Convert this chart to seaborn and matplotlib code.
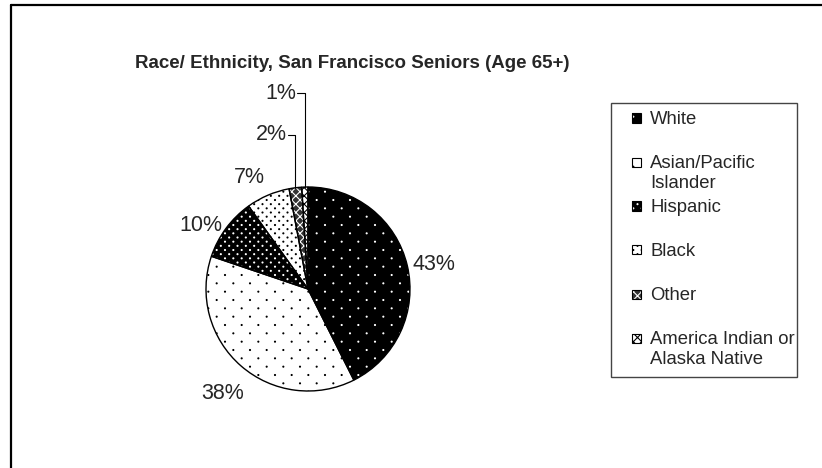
import numpy as np
import matplotlib
matplotlib.use("Agg")
import matplotlib.pyplot as plt
import seaborn as sns
from matplotlib.lines import Line2D
from matplotlib.patches import Rectangle
from matplotlib.path import Path
from matplotlib import hatch as mhatch

sns.set_style("white")
plt.rcParams['font.family'] = ['Liberation Sans', 'DejaVu Sans']
plt.rcParams['hatch.linewidth'] = 0.8

# data
groups = ['White', 'Asian/Pacific\nIslander', 'Hispanic', 'Black', 'Other',
          'America Indian or\nAlaska Native']
shares = [43, 38, 10, 7, 2, 1]

# fill / hatch styling per slice
faces = ['black', 'white', 'black', 'white', '#333333', 'white']
hatch_cols = ['white', 'black', 'white', 'black', 'white', 'black']
hatches = ['..', '..', '....', '....', 'xxxx', 'xxxx']


# staggered dot grid like the excel pattern fills ('..' sparse, '....' dense)
class DotLattice(mhatch.HatchPatternBase):
    def __init__(self, hatch, density):
        n = hatch.count('.') // 2
        self.cols = n * density
        self.rows = 2 * self.cols
        circ = Path.unit_circle()
        self.sv = circ.vertices
        self.sc = circ.codes
        self.num_shapes = (self.rows + 1) * (self.cols + 1) if self.cols else 0
        self.num_vertices = self.num_shapes * len(self.sv)

    def set_vertices_and_codes(self, vertices, codes):
        sv = self.sv * 0.005
        vs, cs = [], []
        for row in range(self.rows + 1):
            shift = 0.5 / self.cols if row % 2 else 0.0
            for c in range(self.cols + 1):
                vs.append(sv + [c / self.cols + shift, row / self.rows])
                cs.append(self.sc)
        np.concatenate(vs, out=vertices)
        np.concatenate(cs, out=codes)


mhatch._hatch_types = [t for t in mhatch._hatch_types
                       if t is not mhatch.SmallFilledCircles] + [DotLattice]

W, H = 822, 468
fig = plt.figure(figsize=(W / 100, H / 100), dpi=100)

# outer frame (only top and left show in the crop)
fig.add_artist(Line2D([10.5 / W, 1], [1 - 4.5 / H, 1 - 4.5 / H], color='black', lw=1.6))
fig.add_artist(Line2D([10.5 / W, 10.5 / W], [0, 1 - 4.5 / H], color='black', lw=1.6))

fig.text(352 / W, 1 - 63 / H, 'Race/ Ethnicity, San Francisco Seniors (Age 65+)',
         ha='center', va='center', fontsize=13.5, fontweight='bold')

cx, cy, r = 308, 289, 102
ax = fig.add_axes([(cx - r) / W, (H - cy - r) / H, 2 * r / W, 2 * r / H])

wedges, _ = ax.pie(shares, startangle=90, counterclock=False,
                   colors=faces, wedgeprops=dict(linewidth=0))
for w, hc, ht in zip(wedges, hatch_cols, hatches):
    w.set_edgecolor(hc)
    w.set_hatch(ht)
# outlines on top
ax.pie(shares, startangle=90, counterclock=False,
       wedgeprops=dict(fill=False, edgecolor='black', linewidth=1.0))

ax.set_xlim(-1, 1)
ax.set_ylim(-1, 1)
ax.axis('off')

# percentage labels
align = [('left', 'center', 1.05), ('center', 'top', 1.22), ('right', 'center', 1.05),
         ('right', 'bottom', 1.08)]
for i, w in enumerate(wedges):
    mid = np.deg2rad((w.theta1 + w.theta2) / 2)
    txt = f"{shares[i]}%"
    if i < 4:
        ha, va, rr = align[i]
        ax.text(rr * np.cos(mid) - (0.04 if i == 1 else 0), rr * np.sin(mid), txt,
                ha=ha, va=va, fontsize=15.5, clip_on=False)
    else:
        ty = 1.51 if i == 4 else 1.92
        x0 = np.cos(mid)
        tx = x0 - 0.075
        ax.plot([x0, x0, tx], [np.sin(mid), ty, ty], color='black', lw=0.8,
                clip_on=False)
        ax.text(tx - 0.01, ty, txt, ha='right', va='center', fontsize=15.5,
                clip_on=False)

# legend drawn excel-style: keys on a fixed pitch, second lines overflow
fig.add_artist(Rectangle((611 / W, 1 - 377 / H), 186 / W, 274 / H,
                         transform=fig.transFigure, fill=False,
                         edgecolor='#444444', lw=1.0))
for i, name in enumerate(groups):
    yc = 118 + 44 * i
    key = Rectangle((632 / W, 1 - (yc + 4.5) / H), 9 / W, 9 / H,
                    transform=fig.transFigure, facecolor=faces[i],
                    edgecolor=hatch_cols[i], hatch=hatches[i], lw=0)
    fig.add_artist(key)
    fig.add_artist(Rectangle((632 / W, 1 - (yc + 4.5) / H), 9 / W, 9 / H,
                             transform=fig.transFigure, fill=False,
                             edgecolor='black', lw=0.8))
    fig.text(650 / W, 1 - (yc - 6.8) / H, name, ha='left', va='top',
             fontsize=13.3, linespacing=1.2)

fig.savefig('out.png', dpi=100)
